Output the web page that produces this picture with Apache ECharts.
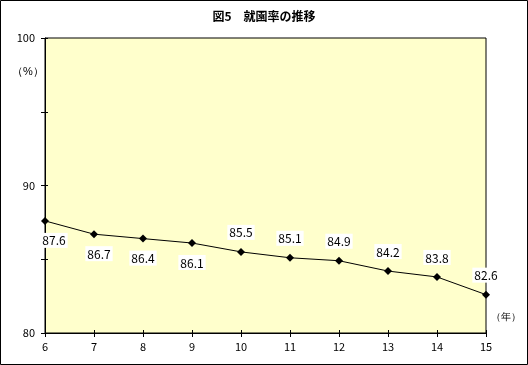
<!DOCTYPE html>
<html><head><meta charset="utf-8">
<script src="https://cdn.jsdelivr.net/npm/echarts@6/dist/echarts.min.js"></script>
<style>html,body{margin:0;padding:0;background:#fff}#c{width:528px;height:365px}</style>
</head><body><div id="c"></div>
<script>
var title = '図5　就園率の推移';
var years = ['6','7','8','9','10','11','12','13','14','15'];
var rates = [87.6, 86.7, 86.4, 86.1, 85.5, 85.1, 84.9, 84.2, 83.8, 82.6];
var yTickLabels = [80, 90, 100];
var belowCount = 4;

var font = '"Noto Sans CJK JP", "DejaVu Sans", sans-serif';
var data = rates.map(function (v, i) {
  var below = i < belowCount;
  return {
    value: v,
    label: {
      position: below ? 'bottom' : 'top',
      distance: 8,
      offset: i === 0 ? [9, 0] : (i === 1 ? [5, 0] : [0, 0])
    }
  };
});

var chart = echarts.init(document.getElementById('c'));
chart.setOption({
  animation: false,
  backgroundColor: '#fff',
  title: {
    text: title, left: 'center', top: 5,
    textStyle: { fontSize: 12, fontWeight: 'bold', color: '#000', fontFamily: font }
  },
  grid: {
    left: 45, right: 42, top: 38, bottom: 32,
    show: true, backgroundColor: '#ffffcc', borderColor: '#000', borderWidth: 1
  },
  xAxis: [{
    type: 'category', data: years, boundaryGap: false,
    axisLine: { lineStyle: { color: '#000', width: 1 } },
    axisTick: { show: true, length: 4, alignWithLabel: true, lineStyle: { color: '#000' } },
    axisLabel: { color: '#000', fontSize: 11, margin: 8, fontFamily: font },
    splitLine: { show: false }
  }, {
    type: 'category', data: years, boundaryGap: false, position: 'bottom',
    axisLine: { show: false },
    axisTick: { show: true, inside: true, length: 3, alignWithLabel: true, lineStyle: { color: '#000' } },
    axisLabel: { show: false },
    splitLine: { show: false }
  }],
  yAxis: [{
    type: 'value', min: 80, max: 100, interval: 5,
    axisLine: { show: true, lineStyle: { color: '#000', width: 1 } },
    axisTick: { show: true, length: 4, lineStyle: { color: '#000' } },
    axisLabel: {
      color: '#000', fontSize: 11, margin: 10, fontFamily: font,
      formatter: function (v) { return yTickLabels.indexOf(v) >= 0 ? String(v) : ''; }
    },
    splitLine: { show: false }
  }, {
    type: 'value', min: 80, max: 100, interval: 5, position: 'left',
    axisLine: { show: false },
    axisTick: { show: true, inside: true, length: 3, lineStyle: { color: '#000' } },
    axisLabel: { show: false },
    splitLine: { show: false }
  }],
  graphic: [
    { type: 'rect', shape: { x: 0.5, y: 0.5, width: 527, height: 364 }, style: { fill: null, stroke: '#000', lineWidth: 1 }, silent: true },
    { type: 'text', left: 12, top: 66, style: { text: '（%）', fontSize: 11, fill: '#000', font: '11px ' + font } },
    { type: 'text', left: 491, top: 312, style: { text: '（年）', fontSize: 10, fill: '#000', font: '10px ' + font } }
  ],
  series: [{
    type: 'line', data: data, xAxisIndex: 0, yAxisIndex: 0,
    symbol: 'diamond', symbolSize: 8,
    itemStyle: { color: '#000' },
    lineStyle: { color: '#000', width: 1 },
    label: {
      show: true, color: '#000', fontSize: 12, fontFamily: font,
      backgroundColor: '#fff', padding: [2, 2, 1, 2]
    }
  }]
});
</script></body></html>
